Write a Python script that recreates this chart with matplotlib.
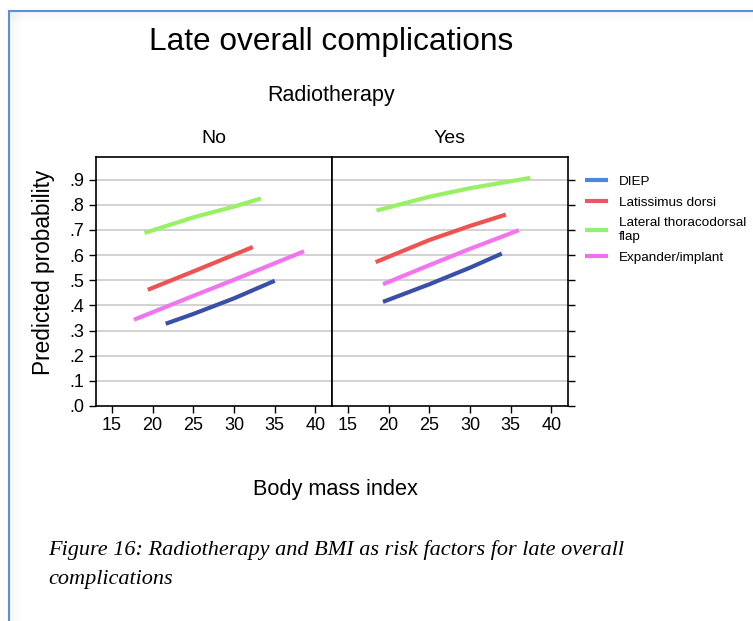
import matplotlib
matplotlib.use("Agg")
import matplotlib.pyplot as plt
from matplotlib.lines import Line2D
from matplotlib.patches import Rectangle

plt.rcParams['font.family'] = ['Liberation Sans', 'DejaVu Sans']

# Predicted probability curves, read as (BMI, probability) pairs
methods = ["DIEP", "Latissimus dorsi", "Lateral thoracodorsal\nflap", "Expander/implant"]
line_colors = ["#3a50a8", "#ee5252", "#98f064", "#f274f0"]
legend_colors = ["#4a88d8", "#ee5560", "#90f070", "#ee72ee"]

# Radiotherapy: No
no_diep_bmi = [21.6, 25, 30, 35.0]
no_diep_p = [0.327, 0.366, 0.428, 0.498]
no_lat_bmi = [19.4, 25, 32.3]
no_lat_p = [0.462, 0.535, 0.632]
no_ltf_bmi = [19.0, 25, 30, 33.3]
no_ltf_p = [0.688, 0.750, 0.793, 0.825]
no_exp_bmi = [17.7, 25, 30, 38.6]
no_exp_p = [0.343, 0.438, 0.502, 0.615]

# Radiotherapy: Yes
yes_diep_bmi = [19.3, 25, 30, 33.9]
yes_diep_p = [0.414, 0.484, 0.550, 0.606]
yes_lat_bmi = [18.4, 25, 30, 34.4]
yes_lat_p = [0.572, 0.660, 0.716, 0.761]
yes_ltf_bmi = [18.5, 25, 30, 37.4]
yes_ltf_p = [0.777, 0.832, 0.866, 0.907]
yes_exp_bmi = [19.3, 25, 30, 36.0]
yes_exp_p = [0.484, 0.560, 0.625, 0.699]

x_ticks = [15, 20, 25, 30, 35, 40]
y_ticks = [0.0, 0.1, 0.2, 0.3, 0.4, 0.5, 0.6, 0.7, 0.8, 0.9]
y_tick_labels = [".0", ".1", ".2", ".3", ".4", ".5", ".6", ".7", ".8", ".9"]

panels = [
    ("No", [(no_diep_bmi, no_diep_p), (no_lat_bmi, no_lat_p),
            (no_ltf_bmi, no_ltf_p), (no_exp_bmi, no_exp_p)]),
    ("Yes", [(yes_diep_bmi, yes_diep_p), (yes_lat_bmi, yes_lat_p),
             (yes_ltf_bmi, yes_ltf_p), (yes_exp_bmi, yes_exp_p)]),
]

W, H = 753, 621
fig = plt.figure(figsize=(W / 100, H / 100), dpi=100)

# page frame: blue border with a soft grey shadow inside it
bg = fig.add_axes([0, 0, 1, 1])
bg.set_xlim(0, W)
bg.set_ylim(H, 0)
bg.axis("off")
for i in range(12):
    a = 0.07 * (1 - i / 12)
    bg.add_patch(Rectangle((10 + i, 11), 1, H, color="#808080", alpha=a, lw=0))
    bg.add_patch(Rectangle((10, 11 + i), W, 1, color="#808080", alpha=a, lw=0))
bg.plot([9.5, 9.5], [10.5, H], color="#5b8fd6", lw=1.5)
bg.plot([9.5, W], [10.5, 10.5], color="#5b8fd6", lw=1.5)

left, bottom, pw, ph = 95.7 / W, 1 - 406 / H, 236.0 / W, 249.0 / H
axes = []
for k, (name, series) in enumerate(panels):
    ax = fig.add_axes([left + k * pw, bottom, pw, ph])
    ax.set_xlim(13, 42)
    ax.set_ylim(0, 0.99)
    for y in y_ticks[1:]:
        ax.axhline(y, color="#cfcfcf", lw=1.3, zorder=1)
    for (bmi, p), c in zip(series, line_colors):
        ax.plot(bmi, p, color=c, lw=3.0, solid_capstyle="butt", zorder=3)
    ax.set_xticks(x_ticks)
    ax.set_xticklabels([str(t) for t in x_ticks], fontsize=13)
    ax.set_yticks(y_ticks)
    for s in ax.spines.values():
        s.set_linewidth(1.2)
    ax.tick_params(axis="both", direction="out", length=5, width=1, pad=3)
    if k == 0:
        ax.set_yticklabels(y_tick_labels, fontsize=13)
    else:
        ax.yaxis.tick_right()
        ax.set_yticklabels([])
    ax.set_title(name, fontsize=14, pad=10)
    axes.append(ax)

fig.text(331 / W, 1 - 42 / H, "Late overall complications", fontsize=22.8,
         ha="center", va="center")
fig.text(331 / W, 1 - 96 / H, "Radiotherapy", fontsize=15.5, ha="center", va="center")
fig.text(44 / W, 1 - 272 / H, "Predicted probability", fontsize=16.3,
         rotation=90, ha="center", va="center")
fig.text(335 / W, 1 - 490 / H, "Body mass index", fontsize=15.7, ha="center", va="center")

handles = [Line2D([], [], color=c, lw=3.0, solid_capstyle="butt") for c in legend_colors]
fig.legend(handles, methods, loc="upper left", bbox_to_anchor=(580 / W, 1 - 170 / H),
           frameon=False, fontsize=9.7, handlelength=1.65, handletextpad=0.85,
           labelspacing=0.62, borderaxespad=0)

caption = ("Figure 16: Radiotherapy and BMI as risk factors for late overall\n"
           "complications")
fig.text(48 / W, 1 - 540 / H, caption, fontsize=16, family="Liberation Serif",
         style="italic", ha="left", va="top", linespacing=1.72)

fig.savefig("out.png", dpi=100)
